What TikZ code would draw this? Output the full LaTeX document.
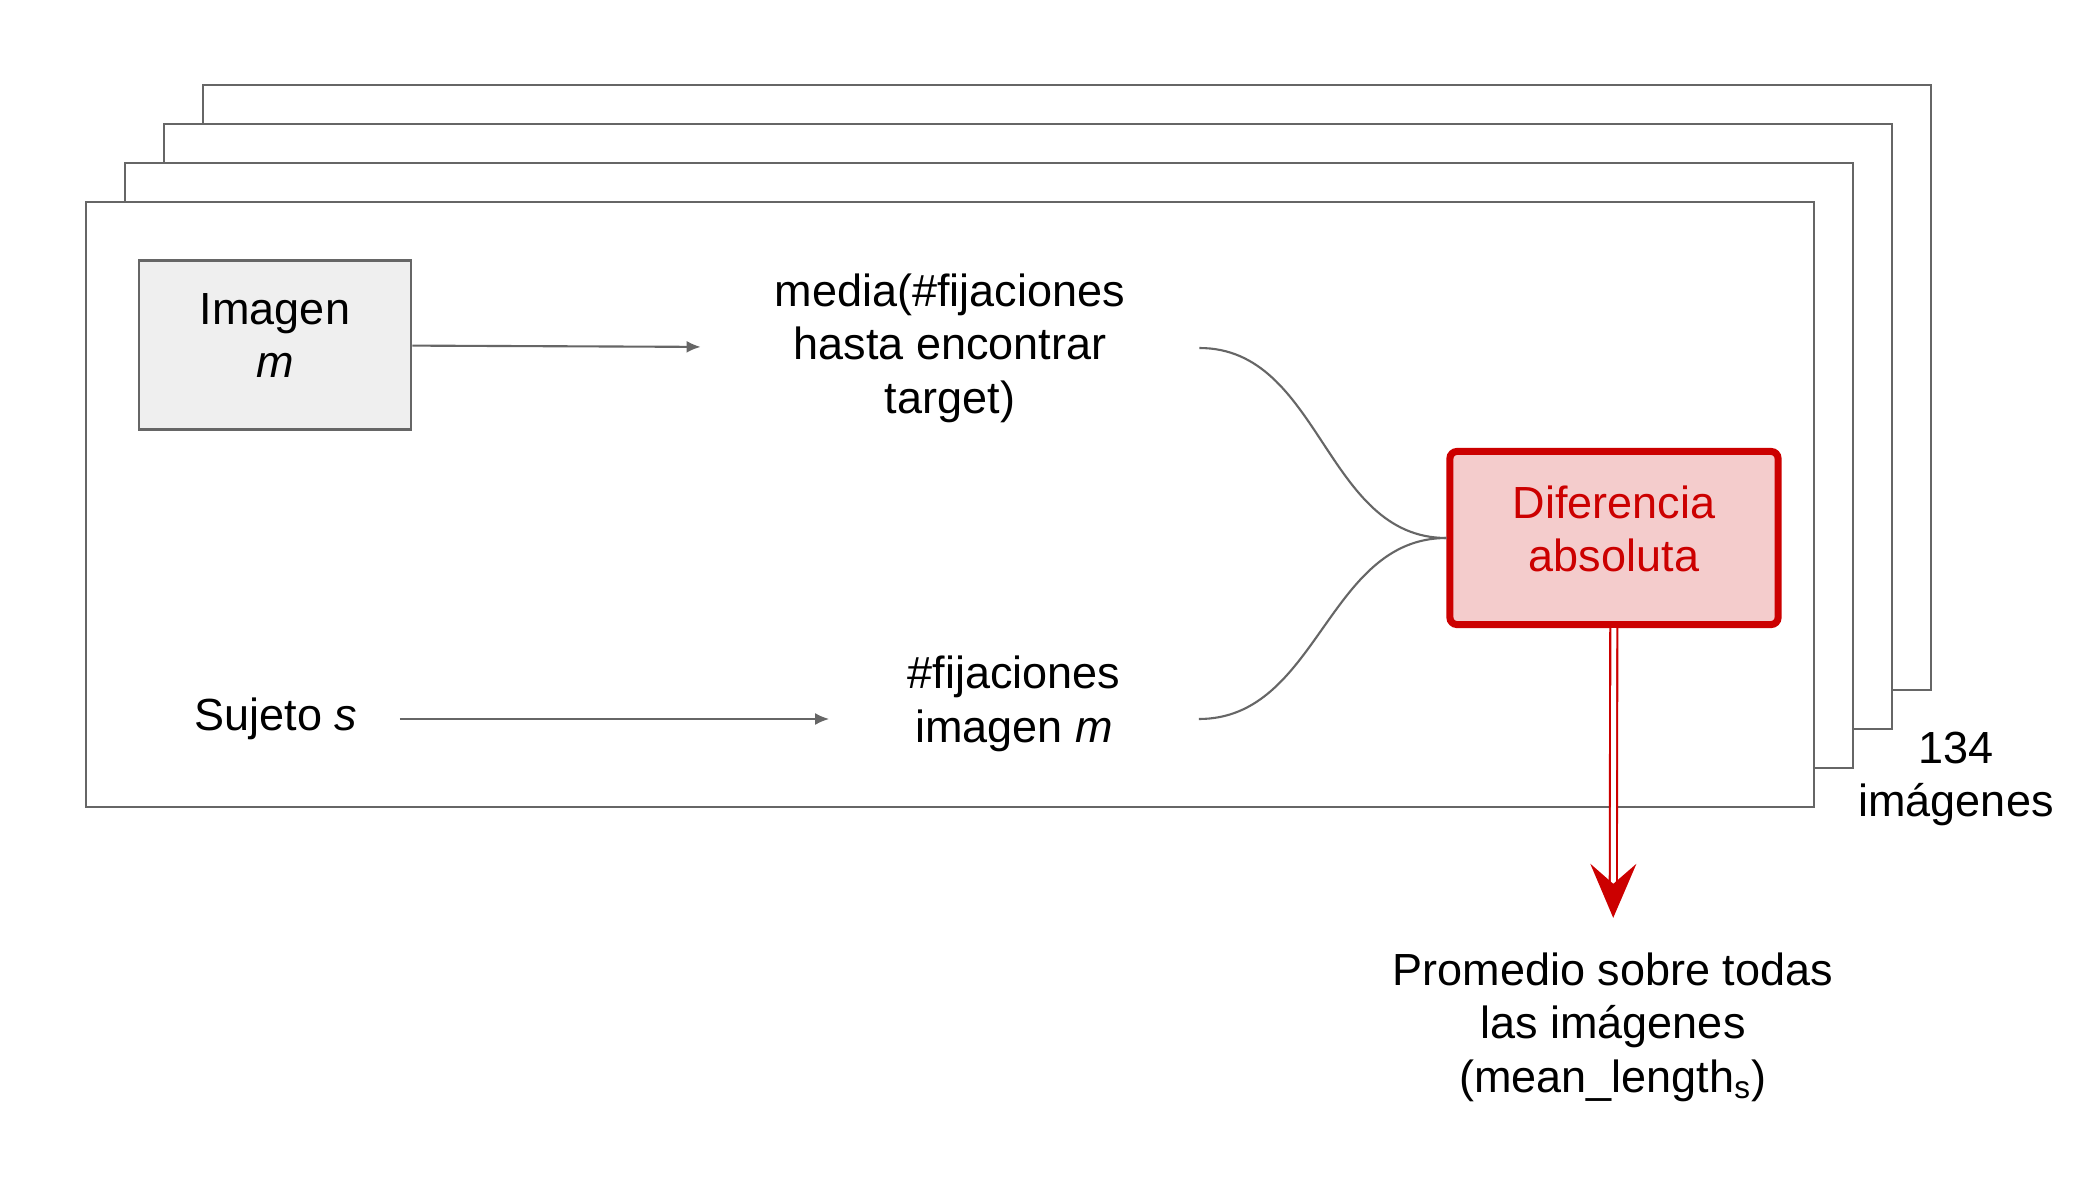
\documentclass[tikz,border=0pt]{standalone}
\usepackage{fontspec}
\setmainfont{Liberation Sans}
\usetikzlibrary{arrows.meta}
\definecolor{framegray}{HTML}{666666}
\definecolor{boxgray}{HTML}{EFEFEF}
\definecolor{difred}{HTML}{CC0000}
\definecolor{difpink}{HTML}{F4CCCC}
\tikzstyle{frame} = [draw=framegray, line width=0.6pt, fill=white]
\tikzstyle{txt} = [align=center, inner sep=0pt, font=\fontsize{12.8}{15.2}\selectfont]
\tikzstyle{input} = [rectangle, txt, text depth=0.19cm, minimum width=2.72cm, minimum height=1.69cm, draw=framegray, line width=0.7pt, fill=boxgray]
\tikzstyle{diff} = [rectangle, txt, text depth=0.19cm, rounded corners=2pt, minimum width=3.28cm, minimum height=1.73cm, draw=difred, line width=2pt, fill=difpink, text=difred]
\tikzstyle{arrow} = [draw=framegray, line width=0.6pt, -{Latex[length=4pt,width=3.4pt]}]
\tikzstyle{link} = [draw=framegray, line width=0.6pt]
\tikzstyle{redarrow} = [draw=difred, line width=0.6pt, double=white, double distance=1.4pt, -{Stealth[length=0.54cm,width=0.46cm,inset=0.2cm]}]

\begin{document}
\begin{tikzpicture}[x=0.01cm, y=-0.01cm]
\useasboundingbox (0,0) rectangle (2099,1200);

% stack of images, back to front
\foreach \i in {3,2,1,0}
  \draw [frame] (86+39*\i, 202-39*\i) rectangle ++(1728,605);

\node (imagen) [input] at (275,345) {Imagen\\\textit{m}};
\node (media) [txt, minimum width=4.97cm] at (950,348) {media(\#fijaciones\\hasta encontrar\\target)};
\node (sujeto) [txt, minimum width=2.46cm] at (276,719) {Sujeto \textit{s}};
\node (fijac) [txt, minimum width=3.68cm] at (1014,704) {\#fijaciones\\imagen \textit{m}};
\node (dif) [diff] at (1614,538) {Diferencia\\absoluta};
\node (prom) [txt] at (1613,1027) {Promedio sobre todas\\las imágenes\\(mean\_length\textsubscript{s})};
\node (count) [txt] at (1956,779) {134\\imágenes};

\draw [arrow] (imagen) -- (media);
\draw [arrow] (sujeto.east) -- (sujeto.east -| fijac.west);
\draw [link] (media.east) to[out=0, in=180] (dif.west);
\draw [link] (sujeto -| fijac.east) to[out=0, in=180] (dif.west);
\draw [redarrow, shorten >=0.34cm] (dif) -- (prom);

\end{tikzpicture}
\end{document}
